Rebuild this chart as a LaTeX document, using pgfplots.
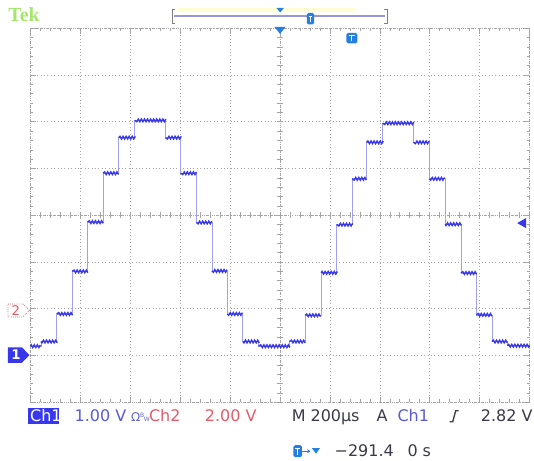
\documentclass[border=0pt]{standalone}
\usepackage{pgfplots}
\pgfplotsset{compat=1.18}
\usepackage{fontspec}
\setmainfont{DejaVu Sans}
\newfontfamily\tekfont{Liberation Serif}
\usetikzlibrary{decorations.pathmorphing,arrows.meta}
\definecolor{trace}{RGB}{55,55,235}
\definecolor{tracelt}{RGB}{160,160,242}
\definecolor{chblue}{RGB}{90,90,212}
\definecolor{chred}{RGB}{226,92,104}
\definecolor{dark}{RGB}{58,58,72}
\definecolor{azure}{RGB}{36,128,222}
\definecolor{tekgreen}{RGB}{165,230,110}
\definecolor{gridc}{RGB}{165,165,165}
\definecolor{barc}{RGB}{150,150,215}
\newcommand\fs{\fontsize{12}{12}\selectfont}
\begin{document}
\begin{tikzpicture}
\begin{scope}[x=0.75pt,y=-0.75pt,yshift=345.75pt]
\path[use as bounding box] (0,0) rectangle (534,461);
% centre lines of the graticule, denser, with small ticks
\draw[gridc, line width=0.45pt, dash pattern=on 0.45pt off 1.1pt] (30.5,215.6) -- (530.5,215.6);
\draw[gridc, line width=0.45pt, dash pattern=on 0.45pt off 1.1pt] (280.5,28.3) -- (280.5,403);
\foreach \i in {0,...,40} { \draw[gridc, line width=0.45pt] (277.5,{28.3+\i*9.3675}) -- (283.5,{28.3+\i*9.3675}); }
\foreach \i in {0,...,50} { \draw[gridc, line width=0.45pt] ({30.5+\i*10},212.6) -- ({30.5+\i*10},218.6); }
\end{scope}
\begin{axis}[at={(22.875pt,43.5pt)}, anchor=south west, scale only axis,
  width=375pt, height=281pt,
  xmin=-1000, xmax=1000, ymin=-1, ymax=7,
  xtick={-1000,-800,...,1000}, ytick={-1,0,...,7},
  minor x tick num=4, minor y tick num=4,
  xticklabels={}, yticklabels={},
  grid=major, grid style={gridc, line width=0.45pt, dash pattern=on 0.45pt off 2.1pt},
  axis line style={gridc, line width=0.45pt, dash pattern=on 0.45pt off 1.1pt},
  tick style={gridc, line width=0.45pt},
  major tick length=4pt, minor tick length=2.2pt,
  tick align=inside, clip=false]
\addplot[tracelt, line width=0.5pt, const plot, forget plot] coordinates {
(-1000,0.20) (-958,0.30) (-895,0.89) (-833,1.80) (-771,2.855) (-709,3.90) (-646,4.66) (-582,5.03)
(-459,4.66) (-398,3.90) (-335,2.846) (-273,1.81) (-211,0.89) (-149,0.30) (-86,0.20)
(38,0.30) (101,0.86) (165,1.77) (227,2.80) (289,3.78) (347,4.56) (411,4.97)
(535,4.56) (598,3.78) (662,2.81) (725,1.765) (787,0.87) (849,0.30) (911,0.21) (1000,0.21)};
\addplot[trace, line width=1.05pt, unbounded coords=jump, decoration={zigzag, segment length=2.3pt, amplitude=1.0pt}, decorate] table {
x y
-1000 0.20
-958 0.20
nan nan
-958 0.30
-895 0.30
nan nan
-895 0.89
-833 0.89
nan nan
-833 1.80
-771 1.80
nan nan
-771 2.855
-709 2.855
nan nan
-709 3.90
-646 3.90
nan nan
-646 4.66
-582 4.66
nan nan
-582 5.03
-459 5.03
nan nan
-459 4.66
-398 4.66
nan nan
-398 3.90
-335 3.90
nan nan
-335 2.846
-273 2.846
nan nan
-273 1.81
-211 1.81
nan nan
-211 0.89
-149 0.89
nan nan
-149 0.30
-86 0.30
nan nan
-86 0.20
38 0.20
nan nan
38 0.30
101 0.30
nan nan
101 0.86
165 0.86
nan nan
165 1.77
227 1.77
nan nan
227 2.80
289 2.80
nan nan
289 3.78
347 3.78
nan nan
347 4.56
411 4.56
nan nan
411 4.97
535 4.97
nan nan
535 4.56
598 4.56
nan nan
598 3.78
662 3.78
nan nan
662 2.81
725 2.81
nan nan
725 1.765
787 1.765
nan nan
787 0.87
849 0.87
nan nan
849 0.30
911 0.30
nan nan
911 0.21
1000 0.21
};
\end{axis}
\begin{scope}[x=0.75pt,y=-0.75pt,yshift=345.75pt]
% Tek logo
\node[anchor=base west, inner sep=0, text=tekgreen, font=\tekfont\bfseries\fontsize{15}{15}\selectfont] at (8,22) {Tek};
% record position bar
\fill[yellow!18!white] (178,8.5) rectangle (356,11);
\draw[barc, line width=1.5pt] (174,16) -- (386,16);
\draw[gray, line width=0.6pt] (175.5,9) -- (172.5,9) -- (172.5,23) -- (175.5,23);
\draw[gray, line width=0.6pt] (384.6,9) -- (387.6,9) -- (387.6,23) -- (384.6,23);
\fill[azure] (277,8) -- (284.4,8) -- (280.7,12.5) -- cycle;
\fill[azure, rounded corners=1.2pt] (307.3,13) rectangle (314.7,24.5);
\draw[white, line width=0.7pt] (309.3,16) -- (312.7,16) (311,16) -- (311,22);
% trigger position marker
\fill[azure] (275,27) -- (286,27) -- (280.5,34) -- cycle;
\fill[azure, rounded corners=1.2pt] (347,33) rectangle (358,43.5);
\draw[white, line width=0.8pt] (349.6,35.8) -- (355.4,35.8) (352.5,35.8) -- (352.5,41.5);
% channel ground markers
\draw[chred, fill=white, line width=0.6pt, densely dotted] (8,304.5) -- (23,304.5) -- (29.5,311) -- (23,317.5) -- (8,317.5) -- cycle;
\node[text=chred, inner sep=0, font=\fontsize{10}{10}\selectfont] at (16,311) {2};
\fill[trace] (8,348) -- (22,348) -- (29.5,355.7) -- (22,363.4) -- (8,363.4) -- cycle;
\node[text=white, inner sep=0, font=\bfseries\fontsize{10}{10}\selectfont] at (16,355.7) {1};
% trigger level arrow
\fill[trace] (518,223.5) -- (527,218.5) -- (527,228.5) -- cycle;
% bottom readout
\fill[trace] (28,408.5) rectangle (59,424.5);
\node[anchor=base west, inner sep=0, text=white, font=\fs] at (30,422.5) {Ch1};
\node[anchor=base west, inner sep=0, text=chblue, font=\fs] at (74.5,422.5) {1.00 V};
\node[anchor=base west, inner sep=0, text=chblue!70!gray, font=\fontsize{9}{9}\selectfont] at (131,422.5) {Ω\raisebox{3pt}{\fontsize{4.5}{4.5}\selectfont B}\kern-0.3pt{\fontsize{4.5}{4.5}\selectfont W}};
\node[anchor=base west, inner sep=0, text=chred, font=\fs] at (149,422.5) {Ch2};
\node[anchor=base west, inner sep=0, text=chred, font=\fs] at (205,422.5) {2.00 V};
\node[anchor=base west, inner sep=0, text=dark, font=\fs] at (292,422.5) {M 200µs};
\node[anchor=base west, inner sep=0, text=dark, font=\fs] at (377,422.5) {A};
\node[anchor=base west, inner sep=0, text=chblue, font=\fs] at (398,422.5) {Ch1};
\draw[dark, line width=1pt] (450.5,422.5) -- (453.5,422.5) -- (456.5,411.5) -- (459.5,411.5);
\node[anchor=base west, inner sep=0, text=dark, font=\fs] at (481.5,422.5) {2.82 V};
% second readout line
\fill[azure, rounded corners=1.2pt] (294,446) rectangle (302.5,458);
\draw[white, line width=0.7pt] (295.8,448.8) -- (300.7,448.8) (298.25,448.8) -- (298.25,455.5);
\draw[azure, line width=0.8pt, -{Stealth[length=2.5pt,width=3pt]}] (303,452) -- (311,452);
\fill[azure] (312.5,449) -- (320.5,449) -- (316.5,454.5) -- cycle;
\node[anchor=base west, inner sep=0, text=dark, font=\fs] at (335,457.5) {−291.4};
\node[anchor=base west, inner sep=0, text=dark, font=\fs] at (408,457.5) {0};
\node[anchor=base west, inner sep=0, text=dark, font=\fs] at (423,457.5) {s};
\end{scope}
\end{tikzpicture}
\end{document}
